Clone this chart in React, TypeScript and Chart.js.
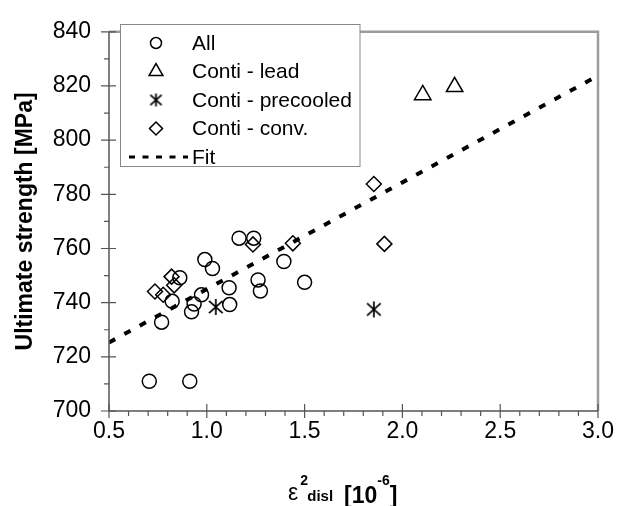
import React, { useEffect, useRef } from 'react';
import { Chart, registerables } from 'chart.js';

Chart.register(...registerables);

const allX = [0.706, 0.913, 0.769, 0.823, 0.862, 0.922, 0.935, 0.973, 0.99, 1.029, 1.114, 1.117, 1.165, 1.24, 1.262, 1.274, 1.394, 1.5];
const allY = [711, 711, 732.8, 740.5, 749.2, 736.6, 739.5, 742.9, 755.9, 752.6, 745.5, 739.3, 763.8, 763.8, 748.4, 744.3, 755.2, 747.5];
const leadX = [2.104, 2.267];
const leadY = [816.7, 819.7];
const precooledX = [1.046, 1.854];
const precooledY = [738.4, 737.5];
const convX = [0.735, 0.777, 0.82, 0.833, 1.236, 1.44, 1.854, 1.908];
const convY = [744.1, 742.9, 749.6, 746.4, 761.5, 761.9, 783.8, 761.7];
const fitX = [0.5, 3.0];
const fitY = [725.3, 823.8];

const xTicks = [0.5, 1.0, 1.5, 2.0, 2.5, 3.0];
const yTicks = [700, 720, 740, 760, 780, 800, 820, 840];
const legendLabels = ['All', 'Conti - lead', 'Conti - precooled', 'Conti - conv.', 'Fit'];

const FONT = '"Liberation Sans", Arial, sans-serif';

function zip(xs: number[], ys: number[]) {
  return xs.map((x, i) => ({ x, y: ys[i] }));
}

function makeAsterisk(size: number) {
  const c = document.createElement('canvas');
  c.width = size;
  c.height = size;
  const g = c.getContext('2d')!;
  const m = size / 2;
  g.strokeStyle = '#000';
  g.lineWidth = 1.7;
  g.beginPath();
  g.moveTo(m, 1);
  g.lineTo(m, size - 1);
  g.moveTo(m - size * 0.38, m - size * 0.34);
  g.lineTo(m + size * 0.38, m + size * 0.34);
  g.moveTo(m + size * 0.38, m - size * 0.34);
  g.lineTo(m - size * 0.38, m + size * 0.34);
  g.stroke();
  return c;
}

export default function App() {
  const ref = useRef<HTMLCanvasElement | null>(null);

  useEffect(() => {
    if (!ref.current) return;
    const asterisk = makeAsterisk(18);
    const asteriskSmall = makeAsterisk(15);

    const framePlugin = {
      id: 'frameTicks',
      afterDraw(chart: any) {
        const { ctx, chartArea } = chart;
        const { left, right, top, bottom } = chartArea;
        const xs = chart.scales.x;
        const ys = chart.scales.y;
        ctx.save();
        ctx.strokeStyle = '#9c9c9c';
        ctx.lineWidth = 2.5;
        ctx.beginPath();
        ctx.moveTo(left, top);
        ctx.lineTo(right, top);
        ctx.lineTo(right, bottom);
        ctx.stroke();

        ctx.strokeStyle = '#555';
        ctx.lineWidth = 1.5;
        ctx.beginPath();
        ctx.moveTo(left, top);
        ctx.lineTo(left, bottom);
        ctx.lineTo(right, bottom);
        ctx.stroke();

        ctx.lineWidth = 1.2;
        ctx.beginPath();
        yTicks.forEach((v) => {
          const p = ys.getPixelForValue(v);
          ctx.moveTo(left - 8, p);
          ctx.lineTo(left + 7, p);
        });
        for (let i = 0; i < yTicks.length - 1; i++) {
          const p = ys.getPixelForValue((yTicks[i] + yTicks[i + 1]) / 2);
          ctx.moveTo(left - 5, p);
          ctx.lineTo(left, p);
        }
        xTicks.forEach((v) => {
          const p = xs.getPixelForValue(v);
          ctx.moveTo(p, bottom - 7);
          ctx.lineTo(p, bottom + 7);
        });
        for (let i = 0; i < xTicks.length - 1; i++) {
          for (let k = 1; k < 5; k++) {
            const v = xTicks[i] + ((xTicks[i + 1] - xTicks[i]) * k) / 5;
            const p = xs.getPixelForValue(v);
            ctx.moveTo(p, bottom);
            ctx.lineTo(p, bottom + 5);
          }
        }
        ctx.stroke();

        // x axis title
        ctx.fillStyle = '#000';
        ctx.textBaseline = 'alphabetic';
        ctx.textAlign = 'left';
        const base = 500;
        let cx = 288;
        const seg = (t: string, f: string, dy: number) => {
          ctx.font = f;
          ctx.fillText(t, cx, base + dy);
          cx += ctx.measureText(t).width;
        };
        seg('ε', `23px ${FONT}`, 0);
        const supX = cx;
        ctx.font = `bold 14px ${FONT}`;
        ctx.fillText('2', supX + 2, base - 15);
        cx = supX + 9;
        seg('disl', `bold 15px ${FONT}`, 1);
        cx += 11;
        seg('[10', `bold 23px ${FONT}`, 3);
        seg('-6', `bold 14px ${FONT}`, -15);
        seg(']', `bold 23px ${FONT}`, 3);

        // legend
        const bx = 120.5, by = 24.5, bw = 239.5, bh = 142;
        ctx.fillStyle = '#fff';
        ctx.fillRect(bx, by, bw, bh);
        ctx.strokeStyle = '#888';
        ctx.lineWidth = 1;
        ctx.strokeRect(bx, by, bw, bh);
        const rows = [43, 71.5, 100, 128.5, 157];
        const sx = 156;
        ctx.strokeStyle = '#000';
        ctx.lineWidth = 1.5;
        ctx.beginPath();
        ctx.arc(sx, rows[0], 5.5, 0, Math.PI * 2);
        ctx.stroke();
        const r = 8;
        ctx.beginPath();
        ctx.moveTo(sx, rows[1] - r);
        ctx.lineTo(sx + r * Math.sin((2 * Math.PI) / 3), rows[1] + r * 0.5);
        ctx.lineTo(sx - r * Math.sin((2 * Math.PI) / 3), rows[1] + r * 0.5);
        ctx.closePath();
        ctx.stroke();
        ctx.drawImage(asteriskSmall, sx - 7.5, rows[2] - 7.5);
        const d = 6.5;
        ctx.beginPath();
        ctx.moveTo(sx, rows[3] - d);
        ctx.lineTo(sx + d, rows[3]);
        ctx.lineTo(sx, rows[3] + d);
        ctx.lineTo(sx - d, rows[3]);
        ctx.closePath();
        ctx.stroke();
        ctx.lineWidth = 3;
        ctx.setLineDash([6, 7.5]);
        ctx.beginPath();
        ctx.moveTo(129, rows[4]);
        ctx.lineTo(188, rows[4]);
        ctx.stroke();
        ctx.setLineDash([]);

        ctx.fillStyle = '#000';
        ctx.font = `21px ${FONT}`;
        ctx.textBaseline = 'middle';
        legendLabels.forEach((t, i) => ctx.fillText(t, 192, rows[i] + 1));
        ctx.restore();
      },
    };

    const chart = new Chart(ref.current, {
      type: 'scatter',
      data: {
        datasets: [
          {
            label: 'Fit',
            data: zip(fitX, fitY),
            showLine: true,
            pointRadius: 0,
            borderColor: '#000',
            borderWidth: 4,
            borderDash: [7, 10.5],
            borderCapStyle: 'butt',
          },
          {
            label: 'All',
            data: zip(allX, allY),
            pointStyle: 'circle',
            pointRadius: 7,
            pointBorderWidth: 1.5,
            borderColor: '#000',
            backgroundColor: 'rgba(0,0,0,0)',
          },
          {
            label: 'Conti - lead',
            data: zip(leadX, leadY),
            pointStyle: 'triangle',
            pointRadius: 9.5,
            pointBorderWidth: 1.5,
            borderColor: '#000',
            backgroundColor: 'rgba(0,0,0,0)',
          },
          {
            label: 'Conti - precooled',
            data: zip(precooledX, precooledY),
            pointStyle: asterisk as any,
            pointRadius: 9,
            borderColor: '#000',
            backgroundColor: 'rgba(0,0,0,0)',
          },
          {
            label: 'Conti - conv.',
            data: zip(convX, convY),
            pointStyle: 'rectRot',
            pointRadius: 7.5,
            pointBorderWidth: 1.5,
            borderColor: '#000',
            backgroundColor: 'rgba(0,0,0,0)',
          },
        ],
      },
      options: {
        responsive: false,
        animation: false,
        layout: { padding: { left: 0, top: 18, right: 30, bottom: 0 } },
        plugins: {
          legend: { display: false },
          tooltip: { enabled: false },
        },
        scales: {
          x: {
            type: 'linear',
            min: 0.5,
            max: 3.0,
            afterFit: (s: any) => {
              s.height = 95;
            },
            afterBuildTicks: (s: any) => {
              s.ticks = xTicks.map((v) => ({ value: v }));
            },
            grid: { display: false, drawTicks: false },
            border: { display: false },
            ticks: {
              padding: 7,
              color: '#000',
              font: { family: FONT, size: 23 },
              callback: (v: any) => Number(v).toFixed(1),
              maxRotation: 0,
            },
          },
          y: {
            type: 'linear',
            min: 700,
            max: 840,
            afterFit: (s: any) => {
              s.width = 109;
            },
            afterBuildTicks: (s: any) => {
              s.ticks = yTicks.map((v) => ({ value: v }));
            },
            grid: { display: false, drawTicks: false },
            border: { display: false },
            ticks: {
              padding: 18,
              color: '#000',
              font: { family: FONT, size: 23 },
              callback: (v: any) => String(v),
            },
            title: {
              display: true,
              text: 'Ultimate strength [MPa]',
              color: '#000',
              font: { family: FONT, size: 23, weight: 'bold' },
              padding: { top: 12, bottom: 0 },
            },
          },
        },
      },
      plugins: [framePlugin],
    });
    return () => chart.destroy();
  }, []);

  return (
    <div style={{ position: 'fixed', left: 0, top: 0, width: 628, height: 506, background: '#fff' }}>
      <canvas ref={ref} width={628} height={506} style={{ display: 'block' }} />
    </div>
  );
}
